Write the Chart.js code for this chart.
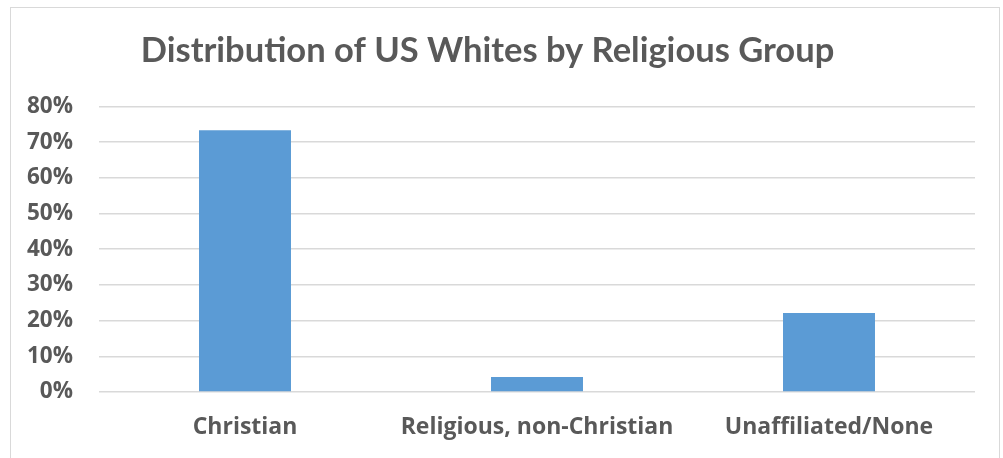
<!DOCTYPE html>
<html>
<head>
<meta charset="utf-8">
<script src="https://cdn.jsdelivr.net/npm/chart.js@4"></script>
<style>
  html, body { margin: 0; padding: 0; background: #fff; overflow: hidden; }
  #frame { position: absolute; left: 10px; top: 7px; width: 990px; height: 470px; border: 1.5px solid #d9d9d9; box-sizing: border-box; }
  #wrap { position: absolute; left: 0; top: 0; width: 1003px; height: 458px; }
</style>
</head>
<body>
<div id="frame"></div>
<div id="wrap"><canvas id="myChart"></canvas></div>
<script>
const ctx = document.getElementById('myChart');

const categories = ['Christian', 'Religious, non-Christian', 'Unaffiliated/None'];
const shares = [73.3, 4.2, 22.1];
const yTicks = [0, 10, 20, 30, 40, 50, 60, 70, 80];

const textColor = '#595959';
const titleFont = 'Lato, "Open Sans", sans-serif';
const labelFont = '"Open Sans", Lato, sans-serif';

new Chart(ctx, {
    type: 'bar',
    data: {
        labels: categories,
        datasets: [
            {
                label: 'Share',
                data: shares,
                backgroundColor: '#5B9BD5',
                borderWidth: 0,
                barPercentage: 0.315,
                categoryPercentage: 1
            }
        ]
    },
    options: {
        responsive: true,
        maintainAspectRatio: false,
        animation: false,
        layout: {
            padding: { left: 0, right: 28, top: 0, bottom: 0 }
        },
        plugins: {
            legend: { display: false },
            tooltip: { enabled: false },
            title: {
                display: true,
                text: 'Distribution of US Whites by Religious Group',
                color: textColor,
                font: { family: titleFont, size: 34.5, weight: 'bold' },
                padding: { top: 30, bottom: 35 }
            }
        },
        scales: {
            x: {
                grid: { display: false, drawTicks: false },
                border: { display: false },
                ticks: {
                    color: textColor,
                    font: { family: labelFont, size: 23, weight: 'bold' },
                    padding: 22,
                    maxRotation: 0
                },
                afterFit: s => { s.height = 66 }
            },
            y: {
                min: 0,
                max: 80,
                afterBuildTicks: s => { s.ticks = yTicks.map(v => ({ value: v })) },
                grid: { color: '#d9d9d9', lineWidth: 1.5, drawTicks: false },
                border: { display: false },
                ticks: {
                    color: textColor,
                    font: { family: labelFont, size: 22.5, weight: 'bold' },
                    padding: 26,
                    callback: v => v + '%'
                },
                afterFit: s => { s.width = 99 }
            }
        }
    }
});
</script>
</body>
</html>
